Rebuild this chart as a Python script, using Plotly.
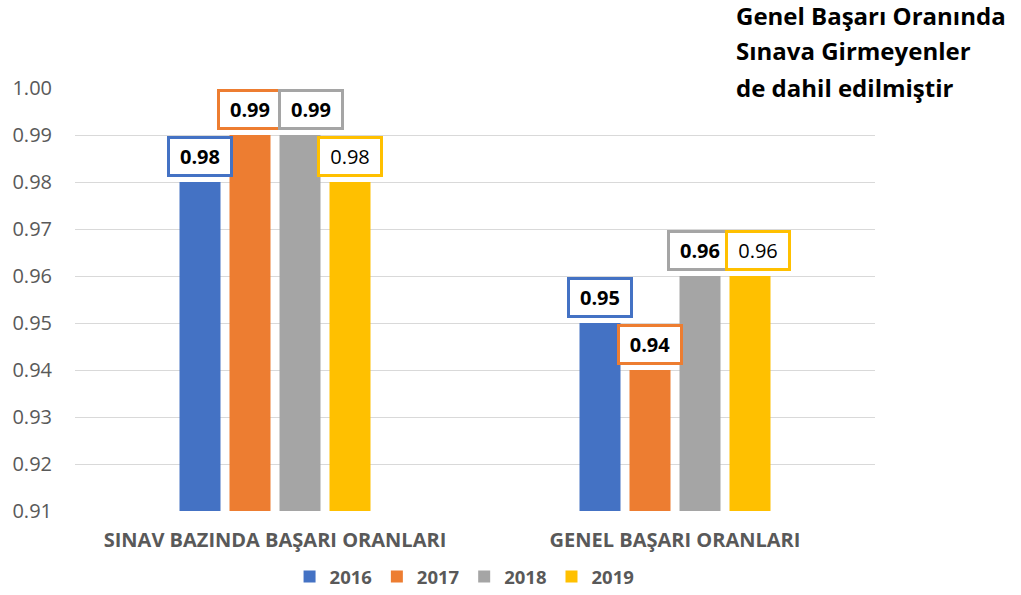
import plotly.graph_objects as go

categories = ["SINAV BAZINDA BAŞARI ORANLARI", "GENEL BAŞARI ORANLARI"]
years = ["2016", "2017", "2018", "2019"]
values = {
    "2016": [0.98, 0.95],
    "2017": [0.99, 0.94],
    "2018": [0.99, 0.96],
    "2019": [0.98, 0.96],
}
colors = {"2016": "#4472C4", "2017": "#ED7D31", "2018": "#A5A5A5", "2019": "#FFC000"}
bold_labels = {"2016": True, "2017": True, "2018": True, "2019": False}
note_lines = ["Genel Başarı Oranında", "Sınava Girmeyenler", "de dahil edilmiştir"]
y_ticks = [0.91, 0.92, 0.93, 0.94, 0.95, 0.96, 0.97, 0.98, 0.99, 1.00]

# label nudges (pixels) to avoid overlapping boxes, as in the original
label_xshift = {("2018", 0): 11, ("2019", 1): 8}

FONT = "Open Sans"
GRAY = "#595959"

fig = go.Figure()
for yr in years:
    fig.add_trace(go.Bar(
        name=yr, x=list(range(len(categories))), y=values[yr],
        marker=dict(color=colors[yr], line=dict(width=0)),
    ))

bargap = 0.5
groupgap = 0.18
n = len(years)
slot = (1 - bargap) / n
annotations = []
for i in range(len(categories)):
    for k, yr in enumerate(years):
        xoff = -(1 - bargap) / 2 + slot * (k + 0.5)
        v = values[yr][i]
        txt = f"<b>{v:.2f}</b>" if bold_labels[yr] else f"{v:.2f}"
        annotations.append(dict(
            x=i + xoff, y=v, xref="x", yref="y", text=txt, showarrow=False,
            yanchor="bottom", xanchor="center", yshift=5,
            xshift=label_xshift.get((yr, i), 0),
            font=dict(family=FONT, size=20, color="#000000"),
            width=52, align="center",
            bgcolor="#FFFFFF", bordercolor=colors[yr], borderwidth=3, borderpad=4,
        ))

note_y_px = [15, 51, 87]
for line, py in zip(note_lines, note_y_px):
    annotations.append(dict(
        x=(734 - 75) / 800, y=(511 - py) / 423, xref="paper", yref="paper",
        text=f"<b>{line}</b>", showarrow=False, xanchor="left", yanchor="middle",
        font=dict(family=FONT, size=24, color="#000000"),
    ))

fig.update_layout(
    width=1021, height=595,
    margin=dict(l=75, r=146, t=88, b=84, autoexpand=False),
    paper_bgcolor="white", plot_bgcolor="white",
    barmode="group", bargap=bargap, bargroupgap=groupgap,
    font=dict(family=FONT, color=GRAY),
    showlegend=True,
    legend=dict(orientation="h", x=0.455, xanchor="center", xref="container",
                y=(595 - 577) / 595, yanchor="middle", yref="container",
                font=dict(family=FONT, size=18.5, color=GRAY, weight="bold"),
                traceorder="normal", itemwidth=30, tracegroupgap=0),
    annotations=annotations,
    xaxis=dict(
        tickmode="array", tickvals=list(range(len(categories))),
        ticktext=[f"<b>{c}</b>" for c in categories],
        range=[-0.5, 1.5], showgrid=False, zeroline=False, showline=False,
        tickfont=dict(family=FONT, size=20, color=GRAY), ticks="",
        ticklabelstandoff=15,
    ),
    yaxis=dict(
        range=[0.91, 1.00], tickvals=y_ticks, ticktext=[f"{t:.2f}" for t in y_ticks],
        showgrid=True, gridcolor="#D9D9D9", gridwidth=1, zeroline=False,
        showline=False, ticks="", ticklabelstandoff=22,
        tickfont=dict(family=FONT, size=20, color=GRAY),
    ),
)

fig.write_html("out.html", config={"displayModeBar": False},
               post_script="document.body.style.margin='0';")
